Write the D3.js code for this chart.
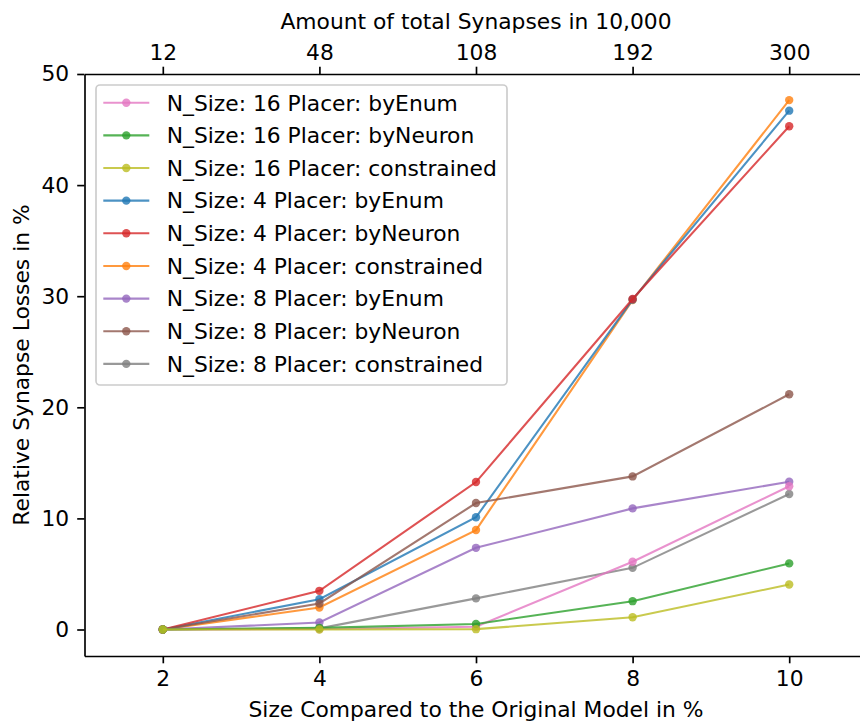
<!DOCTYPE html>
<html>
<head>
<meta charset="utf-8">
<script src="https://cdn.jsdelivr.net/npm/d3@7"></script>
<style>
  body { margin: 0; background: #fff; }
  svg { display: block; font-family: "DejaVu Sans", sans-serif; }
</style>
</head>
<body>
<div id="chart"></div>
<script>
'use strict';

// model size in % of the original, and the matching synapse counts (in 10,000)
const sizes = [2, 4, 6, 8, 10];
const synapses = [12, 48, 108, 192, 300];
const yTicks = [0, 10, 20, 30, 40, 50];

// one array of losses per series, in legend order
const labels = [
  'N_Size: 16 Placer: byEnum',
  'N_Size: 16 Placer: byNeuron',
  'N_Size: 16 Placer: constrained',
  'N_Size: 4 Placer: byEnum',
  'N_Size: 4 Placer: byNeuron',
  'N_Size: 4 Placer: constrained',
  'N_Size: 8 Placer: byEnum',
  'N_Size: 8 Placer: byNeuron',
  'N_Size: 8 Placer: constrained',
];
const colors = ['#e377c2', '#2ca02c', '#bcbd22', '#1f77b4', '#d62728', '#ff7f0e', '#9467bd', '#8c564b', '#7f7f7f'];
const n16ByEnum = [0, 0.05, 0.25, 6.1, 12.9];
const n16ByNeuron = [0, 0.15, 0.5, 2.55, 5.95];
const n16Constrained = [0, 0.0, 0.03, 1.1, 4.05];
const n4ByEnum = [0, 2.73, 10.1, 29.7, 46.7];
const n4ByNeuron = [0, 3.48, 13.27, 29.75, 45.3];
const n4Constrained = [0, 1.98, 8.95, 29.65, 47.65];
const n8ByEnum = [0, 0.63, 7.35, 10.9, 13.3];
const n8ByNeuron = [0, 2.34, 11.38, 13.78, 21.17];
const n8Constrained = [0, 0.1, 2.8, 5.55, 12.2];
const values = [n16ByEnum, n16ByNeuron, n16Constrained, n4ByEnum, n4ByNeuron,
  n4Constrained, n8ByEnum, n8ByNeuron, n8Constrained];

// order the lines were plotted in (last one ends up on top)
const drawOrder = [5, 3, 4, 8, 6, 7, 0, 1, 2];

const W = 860;
const H = 722;
const margin = { top: 74, left: 84.5, bottom: 66 };
const plotRight = 867.5;
const fontSize = 21.8;

const svg = d3.select('#chart')
  .append('svg')
  .attr('width', W)
  .attr('height', H);

const x = d3.scaleLinear()
  .domain([1, 11])
  .range([margin.left, plotRight]);

const y = d3.scaleLinear()
  .domain([-2.385, 50])
  .range([H - margin.bottom, margin.top]);

const styleAxis = (g) => {
  g.attr('font-size', fontSize).attr('font-family', '"DejaVu Sans", sans-serif');
  g.selectAll('.domain').attr('stroke-width', 1.67).attr('stroke', '#000');
  g.selectAll('.tick line').attr('stroke-width', 1.67).attr('stroke', '#000');
  g.selectAll('.tick text').attr('fill', '#000');
};

// bottom axis
svg.append('g')
  .attr('transform', `translate(0, ${y.range()[0]})`)
  .call(d3.axisBottom(x).tickValues(sizes).tickSize(7.3).tickPadding(7).tickSizeOuter(0))
  .call(styleAxis);

// top axis with synapse counts
svg.append('g')
  .attr('transform', `translate(0, ${margin.top})`)
  .call(d3.axisTop(x).tickValues(sizes).tickFormat((d, i) => synapses[i])
    .tickSize(7.3).tickPadding(7).tickSizeOuter(0))
  .call(styleAxis);

// left axis
svg.append('g')
  .attr('transform', `translate(${margin.left}, 0)`)
  .call(d3.axisLeft(y).tickValues(yTicks).tickSize(7.3).tickPadding(8).tickSizeOuter(0))
  .call(styleAxis);

// axis titles
svg.append('text')
  .attr('x', (margin.left + plotRight) / 2)
  .attr('y', 717)
  .attr('text-anchor', 'middle')
  .attr('font-size', fontSize)
  .text('Size Compared to the Original Model in %');

svg.append('text')
  .attr('x', (margin.left + plotRight) / 2)
  .attr('y', 29)
  .attr('text-anchor', 'middle')
  .attr('font-size', fontSize)
  .text('Amount of total Synapses in 10,000');

svg.append('text')
  .attr('transform', `translate(28.5, ${(y.range()[0] + margin.top) / 2}) rotate(-90)`)
  .attr('text-anchor', 'middle')
  .attr('font-size', fontSize)
  .text('Relative Synapse Losses in %');

// lines and markers
const line = d3.line()
  .x((d, i) => x(sizes[i]))
  .y((d) => y(d));

drawOrder.forEach((k) => {
  const g = svg.append('g');
  g.append('path')
    .datum(values[k])
    .attr('d', line)
    .attr('fill', 'none')
    .attr('stroke', colors[k])
    .attr('stroke-opacity', 0.8)
    .attr('stroke-width', 2.1);
  g.selectAll('circle')
    .data(values[k])
    .join('circle')
    .attr('cx', (d, i) => x(sizes[i]))
    .attr('cy', (d) => y(d))
    .attr('r', 4.2)
    .attr('fill', colors[k])
    .attr('fill-opacity', 0.8);
});

// legend
const legend = svg.append('g');
legend.append('rect')
  .attr('x', 96)
  .attr('y', 85)
  .attr('width', 411)
  .attr('height', 300)
  .attr('rx', 4)
  .attr('fill', '#fff')
  .attr('fill-opacity', 0.8)
  .attr('stroke', '#ccc')
  .attr('stroke-width', 1.67);

labels.forEach((label, i) => {
  const cy = 102.7 + i * 32.65;
  legend.append('line')
    .attr('x1', 103.3)
    .attr('x2', 149.3)
    .attr('y1', cy)
    .attr('y2', cy)
    .attr('stroke', colors[i])
    .attr('stroke-opacity', 0.8)
    .attr('stroke-width', 2.1);
  legend.append('circle')
    .attr('cx', 126.3)
    .attr('cy', cy)
    .attr('r', 4.2)
    .attr('fill', colors[i])
    .attr('fill-opacity', 0.8);
  legend.append('text')
    .attr('x', 166.7)
    .attr('y', cy)
    .attr('dy', '0.36em')
    .attr('font-size', fontSize)
    .text(label);
});
</script>
</body>
</html>
